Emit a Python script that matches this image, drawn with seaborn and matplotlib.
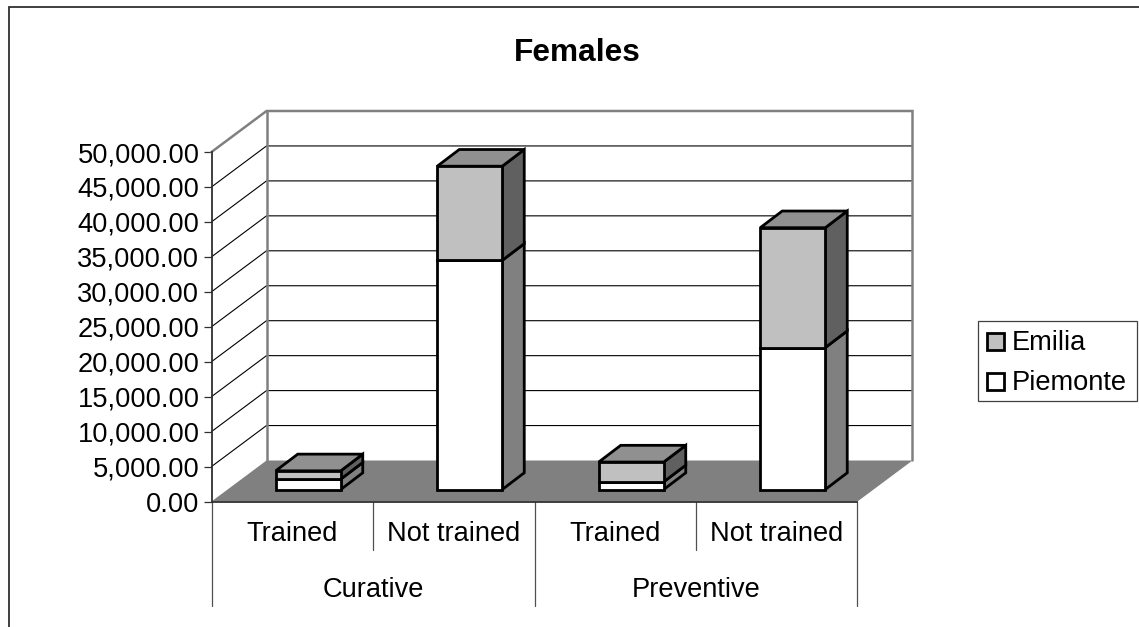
import matplotlib
matplotlib.use("Agg")
import matplotlib.pyplot as plt
from matplotlib.patches import Rectangle
import pandas as pd
import seaborn as sns

# Chart values
methods = ["Curative", "Preventive"]
training = ["Trained", "Not trained", "Trained", "Not trained"]
bar_keys = ["Curative Trained", "Curative Not trained", "Preventive Trained", "Preventive Not trained"]
piemonte = [1480, 32780, 1100, 20300]
emilia = [1190, 13470, 2830, 17150]
value_ticks = list(range(0, 50001, 5000))

FIG_W, FIG_H = 1139, 627
FONT = "Liberation Sans"
TEXT_SIZE = 19.6
OUTLINE = 2.0

sns.set_theme(style="white")
plt.rcParams["font.family"] = [FONT, "DejaVu Sans"]
plt.rcParams["axes.unicode_minus"] = False

# Oblique projection, in pixels
X0, X1, Y0, Y1 = 211.5, 857.5, 501.5, 152.0   # front plane of the axes
WALL_DX, WALL_DY = 55.0, 41.0                 # front plane to back wall
BAR_DX, BAR_DY = 16.0, 12.0                   # front plane to bar fronts
BAR_DEPTH_X, BAR_DEPTH_Y = 22.0, 16.7         # bar depth
BAR_WIDTH_PX = 65.0

px_per_cat = (X1 - X0) / 4
px_per_val = (Y0 - Y1) / 50000


def axes_box(x0, x1, y_bottom, y_top):
    return [x0 / FIG_W, 1 - y_bottom / FIG_H, (x1 - x0) / FIG_W, (y_bottom - y_top) / FIG_H]


fig = plt.figure(figsize=(FIG_W / 100, FIG_H / 100), dpi=100, facecolor="white")

# Overlay in pixel units for the chart frame and legend
frame = fig.add_axes([0, 0, 1, 1], facecolor="none")
frame.set_xlim(0, FIG_W)
frame.set_ylim(FIG_H, 0)
frame.axis("off")
frame.plot([8.5, 8.5, FIG_W], [FIG_H, 7, 7], color="#303030", lw=1.3, solid_joinstyle="miter")

# Axes carrying the value scale and the walls, floor and grid
ax = fig.add_axes(axes_box(X0, X1, Y0, Y1), facecolor="none")
ax.set_xlim(-0.5, 3.5)
ax.set_ylim(0, 50000)
wall_dx = WALL_DX / px_per_cat
wall_dy = WALL_DY / px_per_val
GREY = "#808080"

ax.fill([-0.5, 3.5, 3.5 + wall_dx, -0.5 + wall_dx], [0, 0, wall_dy, wall_dy], color=GREY, lw=0, clip_on=False, zorder=1)
for v in value_ticks[1:-1]:
    ax.plot([-0.5, -0.5 + wall_dx, 3.5 + wall_dx], [v, v + wall_dy, v + wall_dy],
            color="black", lw=0.8, clip_on=False, zorder=2, solid_joinstyle="miter")
wall_top = 50000 + wall_dy
ax.plot([-0.5, -0.5 + wall_dx, 3.5 + wall_dx, 3.5 + wall_dx],
        [50000, wall_top, wall_top, wall_dy], color=GREY, lw=1.8, clip_on=False, zorder=2, solid_joinstyle="miter")
ax.plot([-0.5 + wall_dx, -0.5 + wall_dx], [wall_dy, wall_top], color=GREY, lw=1.8, clip_on=False, zorder=2)

for side in ("top", "right"):
    ax.spines[side].set_visible(False)
for side in ("left", "bottom"):
    ax.spines[side].set_color("#303030")
    ax.spines[side].set_linewidth(1.3)
    ax.spines[side].set_zorder(3)

ax.set_yticks(value_ticks, [f"{v:,.2f}" for v in value_ticks], fontsize=TEXT_SIZE, color="black")
ax.tick_params(axis="y", left=True, length=5.8, width=0.9, color="#303030", pad=2.9)
ax.set_xticks(range(4), training, fontsize=TEXT_SIZE, color="black")
ax.tick_params(axis="x", bottom=False, length=0, pad=14)
ax.grid(False)

# Two-level category dividers and group labels beneath the axis
for x, depth in [(-0.5, 104), (0.5, 48), (1.5, 104), (2.5, 48), (3.5, 104)]:
    ax.plot([x, x], [0, -depth / px_per_val], color="#505050", lw=0.9, clip_on=False, zorder=1)
for center, method in zip([0.5, 2.5], methods):
    ax.text(center, -88.5 / px_per_val, method, ha="center", va="center", fontsize=TEXT_SIZE, color="black", clip_on=False)

# Bars sit on their own axes, shifted into the depth of the floor
bars_ax = fig.add_axes(axes_box(X0 + BAR_DX, X1 + BAR_DX, Y0 - BAR_DY, Y1 - BAR_DY), facecolor="none")
bars_df = pd.DataFrame({"key": bar_keys, "Piemonte": piemonte, "Emilia": emilia})
width = BAR_WIDTH_PX / px_per_cat
dx = BAR_DEPTH_X / px_per_cat
dy = BAR_DEPTH_Y / px_per_val

for i, (p, e) in enumerate(zip(piemonte, emilia)):
    right = i + width / 2
    left = i - width / 2
    total = p + e
    side = dict(edgecolor="black", linewidth=OUTLINE, joinstyle="miter", clip_on=False, zorder=1)
    bars_ax.fill([right, right + dx, right + dx, right], [0, dy, p + dy, p], facecolor="#808080", **side)
    bars_ax.fill([right, right + dx, right + dx, right], [p, p + dy, total + dy, total], facecolor="#606060", **side)
    bars_ax.fill([left, left + dx, right + dx, right], [total, total + dy, total + dy, total], facecolor="#909090", **side)

sns.barplot(data=bars_df, x="key", y="Piemonte", order=bar_keys, color="white", saturation=1, width=width,
            edgecolor="black", linewidth=OUTLINE, ax=bars_ax, zorder=2, clip_on=False)
sns.barplot(data=bars_df, x="key", y="Emilia", order=bar_keys, color="#C0C0C0", saturation=1, width=width,
            bottom=bars_df["Piemonte"], edgecolor="black", linewidth=OUTLINE, ax=bars_ax, zorder=2, clip_on=False)
bars_ax.set_xlim(-0.5, 3.5)
bars_ax.set_ylim(0, 50000)
bars_ax.axis("off")

fig.text(577.5 / FIG_W, 1 - 53 / FIG_H, "Females", ha="center", va="center", fontsize=22.8, fontweight="bold", color="black")

# Legend box with its swatches and labels
frame.add_patch(Rectangle((978, 320.5), 159, 80, facecolor="white", edgecolor="#404040", lw=0.9, zorder=5))
for label, colour, top, baseline in [("Emilia", "#C0C0C0", 332.5, 349.5), ("Piemonte", "white", 373, 390.5)]:
    frame.add_patch(Rectangle((986.5, top), 17, 17, facecolor=colour, edgecolor="black", lw=OUTLINE, zorder=6))
    frame.text(1011.5, baseline, label, ha="left", va="baseline", fontsize=TEXT_SIZE, color="black", zorder=6)

fig.savefig("out.png", dpi=100)
